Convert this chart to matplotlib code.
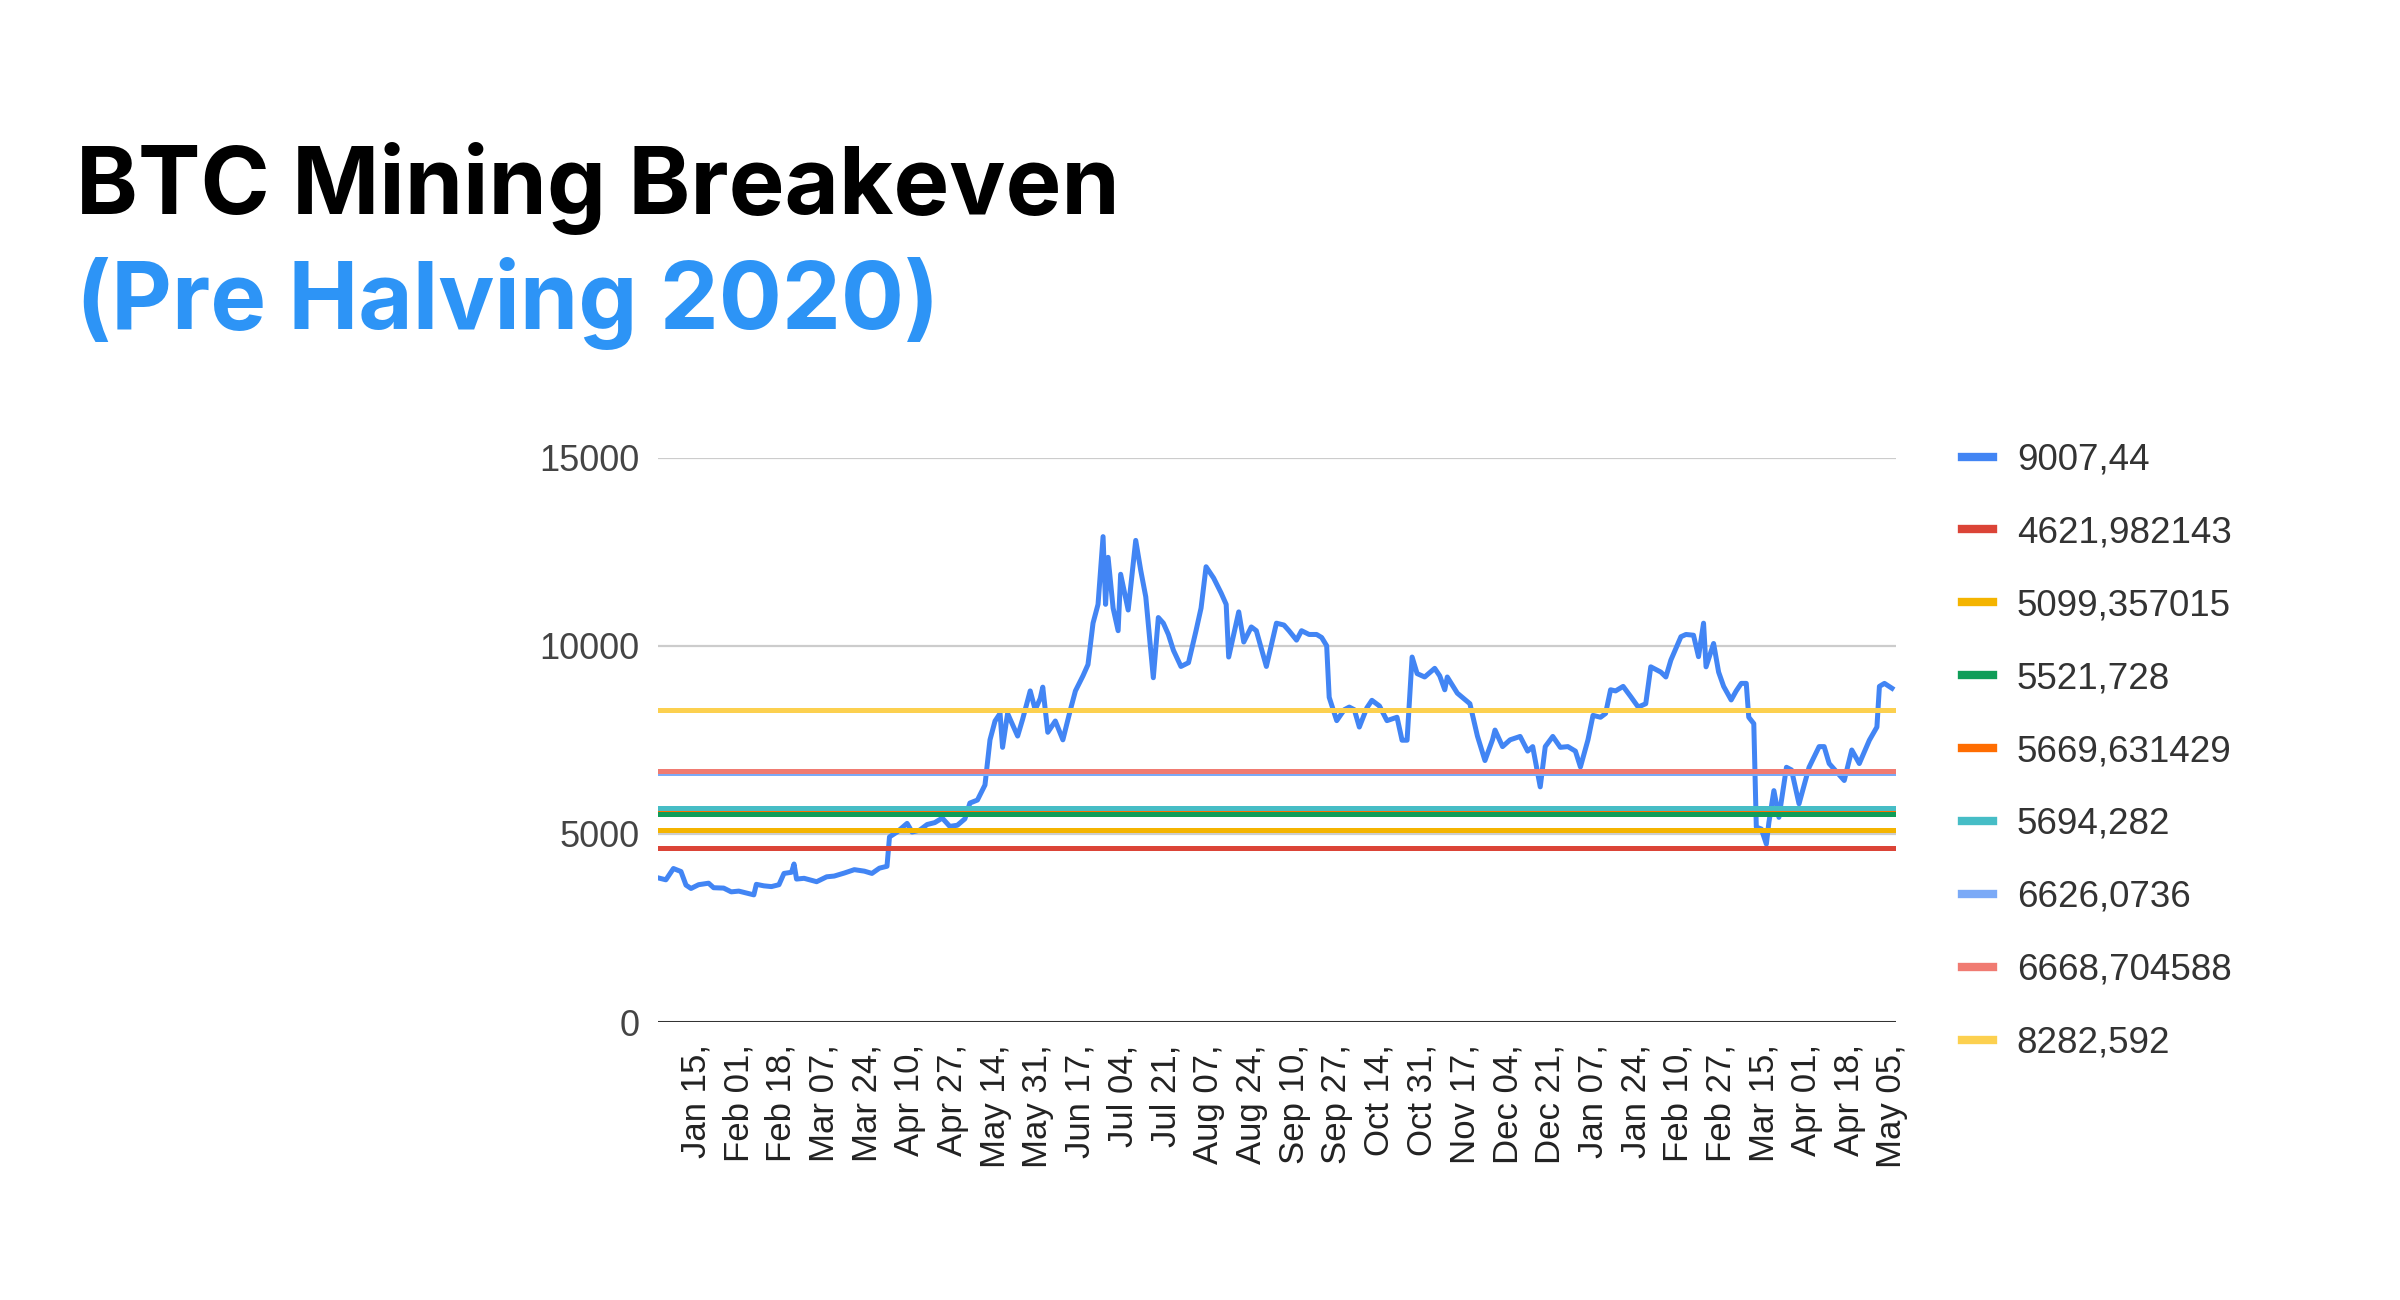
import matplotlib
matplotlib.use("Agg")
import matplotlib.pyplot as plt
import matplotlib.dates as mdates
from matplotlib.lines import Line2D
import numpy as np

# daily BTC close (roughly every few days)
price_dates = [
    "2018-12-31", "2019-01-03", "2019-01-06", "2019-01-09", "2019-01-11", "2019-01-13",
    "2019-01-16", "2019-01-20", "2019-01-22", "2019-01-26", "2019-01-29", "2019-02-01",
    "2019-02-04", "2019-02-07", "2019-02-08", "2019-02-11", "2019-02-14", "2019-02-17",
    "2019-02-19", "2019-02-22", "2019-02-23", "2019-02-24", "2019-02-27", "2019-03-04",
    "2019-03-08", "2019-03-11", "2019-03-15", "2019-03-19", "2019-03-23", "2019-03-26",
    "2019-03-29", "2019-04-01", "2019-04-02", "2019-04-05", "2019-04-09", "2019-04-11",
    "2019-04-14", "2019-04-17", "2019-04-20", "2019-04-23", "2019-04-26", "2019-04-29",
    "2019-05-02", "2019-05-04", "2019-05-07", "2019-05-10", "2019-05-12", "2019-05-14",
    "2019-05-16", "2019-05-17", "2019-05-19", "2019-05-21", "2019-05-23", "2019-05-25",
    "2019-05-28", "2019-05-30", "2019-06-01", "2019-06-02", "2019-06-04", "2019-06-07",
    "2019-06-10", "2019-06-13", "2019-06-15", "2019-06-18", "2019-06-20", "2019-06-22",
    "2019-06-24", "2019-06-26", "2019-06-27", "2019-06-28", "2019-06-30", "2019-07-02",
    "2019-07-03", "2019-07-06", "2019-07-09", "2019-07-11", "2019-07-13", "2019-07-16",
    "2019-07-18", "2019-07-20", "2019-07-22", "2019-07-24", "2019-07-27", "2019-07-30",
    "2019-08-02", "2019-08-04", "2019-08-06", "2019-08-09", "2019-08-12", "2019-08-14",
    "2019-08-15", "2019-08-17", "2019-08-19", "2019-08-21", "2019-08-24", "2019-08-26",
    "2019-08-30", "2019-09-03", "2019-09-06", "2019-09-08", "2019-09-11", "2019-09-13",
    "2019-09-16", "2019-09-19", "2019-09-21", "2019-09-23", "2019-09-24", "2019-09-27",
    "2019-09-30", "2019-10-02", "2019-10-04", "2019-10-06", "2019-10-09", "2019-10-11",
    "2019-10-14", "2019-10-17", "2019-10-21", "2019-10-23", "2019-10-25", "2019-10-27",
    "2019-10-29", "2019-11-01", "2019-11-05", "2019-11-07", "2019-11-09", "2019-11-10",
    "2019-11-14", "2019-11-19", "2019-11-22", "2019-11-25", "2019-11-28", "2019-11-29",
    "2019-12-02", "2019-12-05", "2019-12-09", "2019-12-12", "2019-12-14", "2019-12-17",
    "2019-12-19", "2019-12-22", "2019-12-25", "2019-12-28", "2019-12-31", "2020-01-02",
    "2020-01-05", "2020-01-07", "2020-01-10", "2020-01-12", "2020-01-14", "2020-01-16",
    "2020-01-19", "2020-01-22", "2020-01-25", "2020-01-28", "2020-01-30", "2020-02-03",
    "2020-02-05", "2020-02-07", "2020-02-11", "2020-02-13", "2020-02-16", "2020-02-18",
    "2020-02-20", "2020-02-21", "2020-02-24", "2020-02-26", "2020-02-28", "2020-03-02",
    "2020-03-04", "2020-03-06", "2020-03-08", "2020-03-09", "2020-03-11", "2020-03-12",
    "2020-03-14", "2020-03-16", "2020-03-17", "2020-03-19", "2020-03-21", "2020-03-24",
    "2020-03-26", "2020-03-29", "2020-04-02", "2020-04-06", "2020-04-08", "2020-04-10",
    "2020-04-16", "2020-04-19", "2020-04-22", "2020-04-26", "2020-04-29", "2020-04-30",
    "2020-05-02", "2020-05-05",
]
prices = [
    3830, 3780, 4080, 4000, 3640, 3550,
    3650, 3690, 3570, 3560, 3460, 3480,
    3430, 3380, 3660, 3620, 3600, 3650,
    3950, 3980, 4200, 3800, 3820, 3730,
    3860, 3880, 3960, 4050, 4010, 3950,
    4090, 4140, 4920, 5050, 5280, 5050,
    5100, 5250, 5300, 5420, 5200, 5230,
    5400, 5820, 5900, 6300, 7500, 8000,
    8200, 7300, 8200, 7900, 7600, 8050,
    8800, 8300, 8600, 8900, 7700, 8000,
    7500, 8300, 8800, 9200, 9500, 10600,
    11100, 12900, 11100, 12350, 11000, 10400,
    11900, 10950, 12800, 12000, 11300, 9150,
    10750, 10600, 10300, 9880, 9450, 9550,
    10400, 11000, 12100, 11800, 11400, 11100,
    9700, 10300, 10900, 10100, 10500, 10400,
    9450, 10600, 10550, 10400, 10150, 10400,
    10300, 10300, 10220, 10000, 8630, 8010,
    8300, 8370, 8300, 7840, 8350, 8550,
    8400, 8010, 8100, 7490, 7490, 9700,
    9260, 9170, 9400, 9200, 8830, 9170,
    8740, 8460, 7600, 6950, 7500, 7760,
    7320, 7500, 7590, 7200, 7320, 6250,
    7320, 7590, 7300, 7320, 7200, 6780,
    7500, 8150, 8100, 8200, 8830, 8800,
    8920, 8650, 8370, 8460, 9440, 9300,
    9170, 9620, 10240, 10300, 10280, 9710,
    10600, 9440, 10060, 9300, 8920, 8560,
    8800, 9000, 9000, 8100, 7930, 5180,
    5130, 4730, 5300, 6150, 5440, 6770,
    6700, 5800, 6770, 7320, 7320, 6870,
    6420, 7230, 6870, 7490, 7840, 8920,
    9000, 8870,
]

price_label = "9007,44"
breakeven_labels = ["4621,982143", "5099,357015", "5521,728", "5669,631429",
                    "5694,282", "6626,0736", "6668,704588", "8282,592"]
breakeven_values = [4621.982143, 5099.357015, 5521.728, 5669.631429,
                    5694.282, 6626.0736, 6668.704588, 8282.592]

tick_dates = [
    "2019-01-15", "2019-02-01", "2019-02-18", "2019-03-07", "2019-03-24", "2019-04-10",
    "2019-04-27", "2019-05-14", "2019-05-31", "2019-06-17", "2019-07-04", "2019-07-21",
    "2019-08-07", "2019-08-24", "2019-09-10", "2019-09-27", "2019-10-14", "2019-10-31",
    "2019-11-17", "2019-12-04", "2019-12-21", "2020-01-07", "2020-01-24", "2020-02-10",
    "2020-02-27", "2020-03-15", "2020-04-01", "2020-04-18", "2020-05-05",
]
tick_labels = [
    "Jan 15,", "Feb 01,", "Feb 18,", "Mar 07,", "Mar 24,", "Apr 10,",
    "Apr 27,", "May 14,", "May 31,", "Jun 17,", "Jul 04,", "Jul 21,",
    "Aug 07,", "Aug 24,", "Sep 10,", "Sep 27,", "Oct 14,", "Oct 31,",
    "Nov 17,", "Dec 04,", "Dec 21,", "Jan 07,", "Jan 24,", "Feb 10,",
    "Feb 27,", "Mar 15,", "Apr 01,", "Apr 18,", "May 05,",
]

price_color = "#4285F4"
line_colors = ["#DB4437", "#F4B400", "#0F9D58", "#FF6D01",
               "#46BDC6", "#7BAAF7", "#F07B72", "#FCD04F"]

plt.rcParams["font.family"] = ["Liberation Sans", "DejaVu Sans"]

fig = plt.figure(figsize=(24, 13), dpi=100)
ax = fig.add_axes([0.274, 0.2138, 0.516, 0.4342])

x = mdates.datestr2num(price_dates)
ax.plot(x, prices, color=price_color, lw=3.6, zorder=3, solid_joinstyle="round")
for val, col in zip(breakeven_values, line_colors):
    ax.axhline(val, color=col, lw=3.6, zorder=4)

# gridlines + baseline
for g in [5000, 10000, 15000]:
    ax.axhline(g, color="#cccccc", lw=1.6, zorder=1)
ax.axhline(0, color="#333333", lw=2.2, zorder=5)

t0 = mdates.datestr2num("2019-01-15")
ax.set_xlim(t0 - 15.3, t0 + 477.6)
ax.set_ylim(0, 15000)
ax.set_yticks([0, 5000, 10000, 15000])
ax.set_yticklabels(["0", "5000", "10000", "15000"])
ax.set_xticks(mdates.datestr2num(tick_dates))
ax.set_xticklabels(tick_labels, rotation=90, va="top", ha="center")
ax.tick_params(axis="y", length=0, pad=13, labelsize=26, labelcolor="#444444")
ax.tick_params(axis="x", length=0, pad=16, labelsize=25, labelcolor="#222222")
for s in ax.spines.values():
    s.set_visible(False)

handles = [Line2D([], [], color=price_color, lw=6)]
handles += [Line2D([], [], color=c, lw=6) for c in line_colors]
fig.legend(handles, [price_label] + breakeven_labels,
           loc="upper left", bbox_to_anchor=(0.8115, 0.671), frameon=False,
           fontsize=26.5, labelcolor="#333333", handlelength=0.82,
           handletextpad=0.66, labelspacing=1.03, borderaxespad=0)

fig.text(0.0317, 0.8354, "BTC Mining Breakeven", fontsize=67.5, fontweight="bold",
         family=["Inter", "DejaVu Sans"], color="black", va="baseline")
fig.text(0.0317, 0.747, "(Pre Halving 2020)", fontsize=67.5, fontweight="bold",
         family=["Inter", "DejaVu Sans"], color="#2D94F6", va="baseline")

fig.savefig("out.png", dpi=100, facecolor="white")
